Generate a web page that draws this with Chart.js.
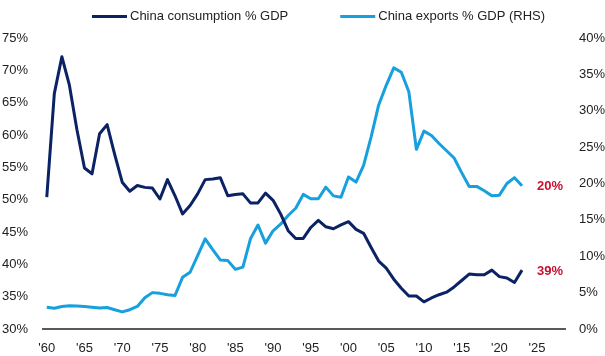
<!DOCTYPE html>
<html>
<head>
<meta charset="utf-8">
<script src="https://cdn.jsdelivr.net/npm/chart.js@4/dist/chart.umd.min.js"></script>
<style>
  html, body { margin: 0; padding: 0; background: #ffffff; }
  #wrap { width: 605px; height: 356px; }
</style>
</head>
<body>
<div id="wrap"><canvas id="c" width="605" height="356"></canvas></div>
<script>
// ---- data ----
const years = [
  1960,1961,1962,1963,1964,1965,1966,1967,1968,1969,
  1970,1971,1972,1973,1974,1975,1976,1977,1978,1979,
  1980,1981,1982,1983,1984,1985,1986,1987,1988,1989,
  1990,1991,1992,1993,1994,1995,1996,1997,1998,1999,
  2000,2001,2002,2003,2004,2005,2006,2007,2008,2009,
  2010,2011,2012,2013,2014,2015,2016,2017,2018,2019,
  2020,2021,2022,2023
];
const consumptionPct = [
  50.4,66.4,72.1,67.7,60.8,54.9,54.0,60.2,61.6,57.0,
  52.7,51.3,52.2,51.9,51.8,50.1,53.1,50.6,47.8,49.1,
  50.9,53.1,53.2,53.4,50.6,50.8,50.9,49.5,49.5,51.0,
  49.9,47.8,45.2,44.0,44.0,45.7,46.8,45.8,45.5,46.1,
  46.6,45.4,44.8,42.6,40.5,39.4,37.7,36.3,35.1,35.1,
  34.2,34.8,35.3,35.7,36.5,37.5,38.5,38.4,38.4,39.1,
  38.1,37.9,37.2,39.1
];
const exportsPct = [
  3.0,2.85,3.1,3.2,3.15,3.1,3.0,2.9,2.95,2.65,
  2.35,2.65,3.1,4.3,5.0,4.9,4.7,4.6,7.1,7.8,
  10.1,12.4,10.9,9.5,9.4,8.2,8.5,12.4,14.3,11.8,
  13.5,14.4,15.6,16.6,18.5,17.9,17.9,19.5,18.3,18.1,
  20.9,20.2,22.5,26.4,30.8,33.5,35.9,35.3,32.6,24.7,
  27.2,26.6,25.5,24.5,23.5,21.5,19.6,19.6,19.0,18.3,
  18.4,20.0,20.8,19.7
];
const seriesLabels = ['China consumption % GDP', 'China exports % GDP (RHS)'];
const endLabels = ['39%', '20%'];
const xTickValues = [1960,1965,1970,1975,1980,1985,1990,1995,2000,2005,2010,2015,2020,2025];
const leftTicks = [30,35,40,45,50,55,60,65,70,75];
const rightTicks = [0,5,10,15,20,25,30,35,40];

// ---- styles ----
const NAVY = '#0b2265';
const LIGHT = '#16a0dd';
const RED = '#c8102e';
const TEXT = '#222222';
const FONT = '"Liberation Sans", Arial, Helvetica, sans-serif';

const toPoints = vals => vals.map((v, i) => ({ x: years[i], y: v }));

const topLegend = {
  id: 'topLegend',
  afterDraw(chart) {
    const ctx = chart.ctx;
    ctx.save();
    ctx.font = '13px ' + FONT;
    ctx.textBaseline = 'middle';
    ctx.textAlign = 'left';
    const lineLen = 35, textGap = 3, itemGap = 52, yMid = 16.5;
    let x = chart.chartArea.left + 49;
    chart.data.datasets.forEach(ds => {
      ctx.strokeStyle = ds.borderColor;
      ctx.lineWidth = 3;
      ctx.beginPath();
      ctx.moveTo(x, yMid);
      ctx.lineTo(x + lineLen, yMid);
      ctx.stroke();
      ctx.fillStyle = TEXT;
      ctx.fillText(ds.label, x + lineLen + textGap, yMid);
      x += lineLen + textGap + ctx.measureText(ds.label).width + itemGap;
    });
    ctx.restore();
  }
};

const endLabelPlugin = {
  id: 'endLabels',
  afterDatasetsDraw(chart) {
    const ctx = chart.ctx;
    ctx.save();
    ctx.font = 'bold 13px ' + FONT;
    ctx.fillStyle = RED;
    ctx.textBaseline = 'middle';
    ctx.textAlign = 'left';
    chart.data.datasets.forEach((ds, i) => {
      const meta = chart.getDatasetMeta(i);
      const last = meta.data[meta.data.length - 1];
      ctx.fillText(endLabels[i], last.x + 15, last.y + 1);
    });
    ctx.restore();
  }
};

new Chart(document.getElementById('c'), {
  type: 'line',
  data: {
    datasets: [
      {
        label: seriesLabels[0],
        data: toPoints(consumptionPct),
        yAxisID: 'y',
        borderColor: NAVY,
        backgroundColor: NAVY,
        borderWidth: 3,
        pointRadius: 0,
        tension: 0,
        borderJoinStyle: 'round',
        borderCapStyle: 'butt'
      },
      {
        label: seriesLabels[1],
        data: toPoints(exportsPct),
        yAxisID: 'y1',
        borderColor: LIGHT,
        backgroundColor: LIGHT,
        borderWidth: 3,
        pointRadius: 0,
        tension: 0,
        borderJoinStyle: 'round',
        borderCapStyle: 'butt'
      }
    ]
  },
  options: {
    responsive: false,
    animation: false,
    devicePixelRatio: 1,
    layout: { padding: { top: 38, left: 0, right: 0, bottom: 0 } },
    plugins: {
      legend: { display: false },
      tooltip: { enabled: false }
    },
    scales: {
      x: {
        type: 'linear',
        min: 1959.5,
        max: 2028.7,
        afterBuildTicks: s => { s.ticks = xTickValues.map(v => ({ value: v })); },
        afterFit: s => { s.height = 27; },
        grid: { display: false, drawTicks: false },
        border: { display: true, color: '#595959', width: 2 },
        ticks: {
          padding: 12,
          color: TEXT,
          font: { family: FONT, size: 13 },
          maxRotation: 0,
          autoSkip: false,
          callback: v => "'" + String(v).slice(2)
        }
      },
      y: {
        position: 'left',
        min: 30,
        max: 75,
        afterBuildTicks: s => { s.ticks = leftTicks.map(v => ({ value: v })); },
        afterFit: s => { s.width = 43; },
        grid: { display: false, drawTicks: false },
        border: { display: false },
        ticks: {
          padding: 15,
          color: TEXT,
          font: { family: FONT, size: 13 },
          callback: v => v + '%'
        }
      },
      y1: {
        position: 'right',
        min: 0,
        max: 40,
        afterBuildTicks: s => { s.ticks = rightTicks.map(v => ({ value: v })); },
        afterFit: s => { s.width = 40; },
        grid: { display: false, drawTicks: false, drawOnChartArea: false },
        border: { display: false },
        ticks: {
          padding: 14,
          color: TEXT,
          font: { family: FONT, size: 13 },
          callback: v => v + '%'
        }
      }
    }
  },
  plugins: [topLegend, endLabelPlugin]
});
</script>
</body>
</html>
